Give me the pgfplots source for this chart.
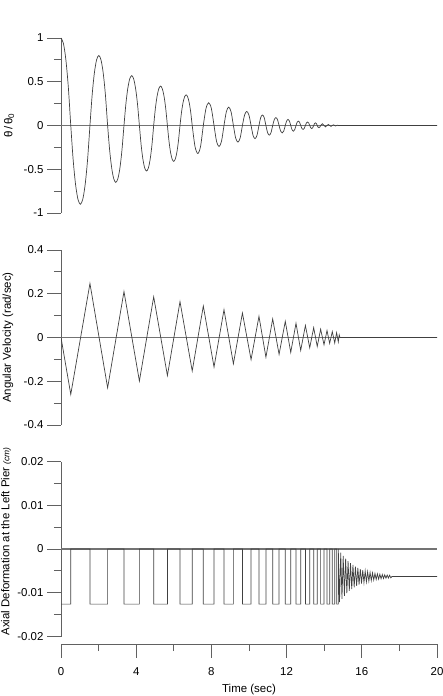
\documentclass[border=0pt]{standalone}
\usepackage{fontspec}
\setmainfont{Liberation Sans}
\usepackage{pgfplots}
\pgfplotsset{compat=1.18}
\definecolor{axcol}{gray}{0.38}
\definecolor{curvecol}{gray}{0.25}
\definecolor{zerocol}{gray}{0.45}
\pgfplotsset{
  common/.style={
    scale only axis, width=376bp, height=175bp,
    xmin=0, xmax=20, xtick=\empty,
    axis x line=none, axis y line=left,
    axis line style={-, draw=axcol, line width=0.8bp},
    tick align=outside, major tick length=13.5bp, minor tick length=7bp,
    minor y tick num=1,
    tick style={draw=axcol, line width=0.8bp},
    tick label style={font=\fontsize{11.5}{13}\selectfont},
    label style={font=\fontsize{11.5}{13}\selectfont},
    /pgf/number format/assume math mode=true,
    scaled y ticks=false,
    yticklabel style={/pgf/number format/fixed, /pgf/number format/precision=3},
  },
  zero/.style={draw=zerocol, line width=1.3bp, mark=none},
  curve/.style={draw=curvecol, line width=0.7bp, mark=none},
}
\begin{document}
\fontsize{11.5}{13}\selectfont
\begin{tikzpicture}
\useasboundingbox (0bp,0bp) rectangle (443bp,696bp);
% ---------------- Panel 1 ----------------
\begin{axis}[common, at={(61bp,483bp)}, anchor=south west,
  ymin=-1, ymax=1, ytick={-1,-0.5,0,0.5,1},
  ylabel={θ\,/\,θ\textsubscript{0}},
  ylabel style={at={(axis description cs:-0.138,0.5)}, anchor=center}]
\addplot[zero] coordinates {(0,0) (20,0)};
\addplot[curve, smooth, tension=0.5] coordinates {
(0,1) (0.13,0.9375) (0.26,0.75) (0.39,0.4375) (0.52,0)
(0.6475,-0.394) (0.775,-0.675) (0.9025,-0.844) (1.03,-0.90) (1.1575,-0.844) (1.285,-0.675) (1.4125,-0.394) (1.54,0)
(1.6575,0.35) (1.775,0.60) (1.8925,0.75) (2.01,0.80) (2.1275,0.75) (2.245,0.60) (2.3625,0.35) (2.48,0)
(2.589,-0.284) (2.698,-0.4875) (2.806,-0.609) (2.915,-0.65) (3.024,-0.609) (3.133,-0.4875) (3.241,-0.284) (3.35,0)
(3.4525,0.249) (3.555,0.4275) (3.6575,0.534) (3.76,0.57) (3.8625,0.534) (3.965,0.4275) (4.0675,0.249) (4.17,0)
(4.265,-0.2275) (4.36,-0.39) (4.455,-0.4875) (4.55,-0.52) (4.645,-0.4875) (4.74,-0.39) (4.835,-0.2275) (4.93,0)
(5.021,0.197) (5.113,0.3375) (5.204,0.422) (5.295,0.45) (5.386,0.422) (5.478,0.3375) (5.569,0.197) (5.66,0)
(5.744,-0.179) (5.828,-0.3075) (5.911,-0.384) (5.995,-0.41) (6.079,-0.384) (6.163,-0.3075) (6.246,-0.179) (6.33,0)
(6.411,0.153) (6.493,0.2625) (6.574,0.328) (6.655,0.35) (6.736,0.328) (6.818,0.2625) (6.899,0.153) (6.98,0)
(7.1275,-0.24) (7.275,-0.32) (7.4225,-0.24) (7.57,0)
(7.7125,0.195) (7.855,0.26) (7.9975,0.195) (8.14,0)
(8.2725,-0.18) (8.405,-0.24) (8.5375,-0.18) (8.67,0)
(8.795,0.1575) (8.92,0.21) (9.045,0.1575) (9.17,0)
(9.29,-0.1425) (9.41,-0.19) (9.53,-0.1425) (9.65,0)
(9.765,0.12) (9.88,0.16) (9.995,0.12) (10.11,0)
(10.215,-0.1125) (10.32,-0.15) (10.425,-0.1125) (10.53,0)
(10.6225,0.09) (10.715,0.12) (10.8075,0.09) (10.90,0)
(10.99,-0.0825) (11.08,-0.11) (11.17,-0.0825) (11.26,0)
(11.345,0.0675) (11.43,0.09) (11.515,0.0675) (11.60,0)
(11.6825,-0.064) (11.765,-0.085) (11.8475,-0.064) (11.93,0)
(12.0025,0.0525) (12.075,0.07) (12.1475,0.0525) (12.22,0)
(12.29,-0.049) (12.36,-0.065) (12.43,-0.049) (12.50,0)
(12.5625,0.0375) (12.625,0.05) (12.6875,0.0375) (12.75,0)
(12.8125,-0.034) (12.875,-0.045) (12.9375,-0.034) (13.00,0)
(13.0575,0.03) (13.115,0.04) (13.1725,0.03) (13.23,0)
(13.2825,-0.026) (13.335,-0.035) (13.3875,-0.026) (13.44,0)
(13.4875,0.0225) (13.535,0.03) (13.5825,0.0225) (13.63,0)
(13.675,-0.019) (13.72,-0.025) (13.765,-0.019) (13.81,0)
(13.90,0.02) (13.99,0)
(14.07,-0.015) (14.15,0)
(14.22,0.012) (14.29,0)
(14.36,-0.01) (14.43,0)
(14.495,0.008) (14.56,0)
(14.61,-0.006) (14.66,0)
(14.705,0.004) (14.75,0)
(14.795,-0.002) (14.84,0)
(16,0) (20,0)
};
\end{axis}
% ---------------- Panel 2 ----------------
\begin{axis}[common, at={(61bp,271bp)}, anchor=south west,
  ymin=-0.4, ymax=0.4, ytick={-0.4,-0.2,0,0.2,0.4},
  ylabel={Angular Velocity (rad/sec)},
  ylabel style={at={(axis description cs:-0.141,0.5)}, anchor=center}]
\addplot[zero] coordinates {(0,0) (20,0)};
\addplot[curve] coordinates {
(0,0) (0.52,-0.26) (1.54,0.247) (2.48,-0.23) (3.35,0.21) (4.17,-0.199)
(4.93,0.186) (5.66,-0.174) (6.33,0.164) (6.98,-0.153) (7.57,0.144)
(8.14,-0.135) (8.67,0.127) (9.17,-0.12) (9.65,0.112) (10.11,-0.101)
(10.53,0.097) (10.90,-0.09) (11.26,0.085) (11.60,-0.077) (11.93,0.074)
(12.22,-0.068) (12.50,0.065) (12.75,-0.059) (13.00,0.055) (13.23,-0.047)
(13.44,0.045) (13.63,-0.041) (13.81,0.038) (13.99,-0.033) (14.15,0.032)
(14.29,-0.027) (14.43,0.027) (14.56,-0.025) (14.66,0.022) (14.75,-0.02)
(14.80,0.012) (14.84,0) (20,0)
};
\end{axis}
% ---------------- Panel 3 ----------------
\begin{axis}[common, at={(61bp,59.5bp)}, anchor=south west,
  ymin=-0.02, ymax=0.02, ytick={-0.02,-0.01,0,0.01,0.02},
  ylabel={Axial Deformation at the Left Pier {\fontsize{8.5}{10}\selectfont\itshape (cm)}},
  ylabel style={at={(axis description cs:-0.146,0.543)}, anchor=center}]
\addplot[zero] coordinates {(0,0) (20,0)};
\addplot[curve] coordinates {
(0,-0.0126) (0.52,-0.0126) (0.52,0) (1.54,0) (1.54,-0.0126) (2.48,-0.0126) (2.48,0)
(3.35,0) (3.35,-0.0126) (4.17,-0.0126) (4.17,0) (4.93,0) (4.93,-0.0126) (5.66,-0.0126) (5.66,0)
(6.33,0) (6.33,-0.0126) (6.98,-0.0126) (6.98,0) (7.57,0) (7.57,-0.0126) (8.14,-0.0126) (8.14,0)
(8.67,0) (8.67,-0.0126) (9.17,-0.0126) (9.17,0) (9.65,0) (9.65,-0.0126) (10.11,-0.0126) (10.11,0)
(10.53,0) (10.53,-0.0126) (10.90,-0.0126) (10.90,0) (11.26,0) (11.26,-0.0126) (11.60,-0.0126) (11.60,0)
(11.93,0) (11.93,-0.0126) (12.22,-0.0126) (12.22,0) (12.50,0) (12.50,-0.0126) (12.75,-0.0126) (12.75,0)
(13.00,0) (13.00,-0.0126) (13.23,-0.0126) (13.23,0) (13.44,0) (13.44,-0.0126) (13.63,-0.0126) (13.63,0)
(13.81,0) (13.81,-0.0126) (13.99,-0.0126) (13.99,0) (14.15,0) (14.15,-0.0126) (14.29,-0.0126) (14.29,0)
(14.43,0) (14.43,-0.0126) (14.56,-0.0126) (14.56,0) (14.66,0) (14.66,-0.0126) (14.75,-0.0126) (14.75,0)
(14.815,-0.01216) (14.880,-0.00085) (14.945,-0.01137) (15.010,-0.00158) (15.075,-0.01069)
(15.140,-0.00222) (15.205,-0.01010) (15.270,-0.00277) (15.335,-0.00959) (15.400,-0.00324)
(15.465,-0.00915) (15.530,-0.00365) (15.595,-0.00876) (15.660,-0.00401) (15.725,-0.00843)
(15.790,-0.00432) (15.855,-0.00815) (15.920,-0.00458) (15.985,-0.00790) (16.050,-0.00482)
(16.115,-0.00768) (16.180,-0.00502) (16.245,-0.00750) (16.310,-0.00519) (16.375,-0.00734)
(16.440,-0.00534) (16.505,-0.00720) (16.570,-0.00547) (16.635,-0.00708) (16.700,-0.00558)
(16.765,-0.00697) (16.830,-0.00568) (16.895,-0.00688) (16.960,-0.00576) (17.025,-0.00680)
(17.090,-0.00583) (17.155,-0.00674) (17.220,-0.00590) (17.285,-0.00668) (17.350,-0.00595)
(17.415,-0.00663) (17.480,-0.00600) (17.545,-0.00660) (17.60,-0.0063) (20,-0.0063)
};
\end{axis}
% ---------------- Time axis ----------------
\begin{axis}[scale only axis, width=376bp, height=10bp, at={(61bp,52bp)}, anchor=south west,
  xmin=0, xmax=20, ymin=0, ymax=1, ytick=\empty,
  axis y line=none, axis x line=bottom,
  axis line style={-, draw=axcol, line width=0.8bp},
  tick align=outside, major tick length=13.5bp, minor tick length=7bp,
  tick style={draw=axcol, line width=0.8bp},
  xtick={0,4,8,12,16,20}, minor x tick num=1,
  tick label style={font=\fontsize{11.5}{13}\selectfont},
  xticklabel style={yshift=-6bp},
  /pgf/number format/assume math mode=true,
  xlabel={Time (sec)},
  xlabel style={font=\fontsize{11.5}{13}\selectfont, at={(axis description cs:0.5,0)}, anchor=center, yshift=-46bp}]
\addplot[draw=none, mark=none] coordinates {(0,0.5) (20,0.5)};
\end{axis}
\end{tikzpicture}
\end{document}
